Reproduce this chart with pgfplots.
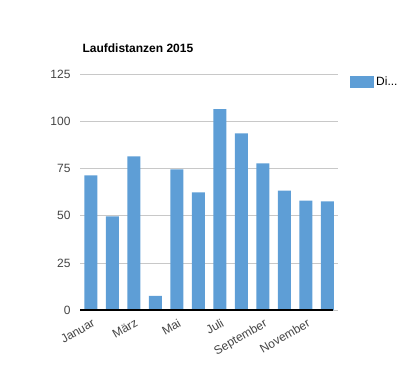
\documentclass[border=0pt]{standalone}
\usepackage{pgfplots}
\pgfplotsset{compat=1.18}
\usepackage{fontspec}
\setmainfont{Liberation Sans}
\definecolor{barblue}{HTML}{5E9ED6}
\definecolor{gridgray}{HTML}{C8C8C8}
\definecolor{ticktext}{HTML}{444444}
\begin{document}
\begin{tikzpicture}[x=1pt,y=1pt]
\useasboundingbox (0,0) rectangle (418,384);
\node[anchor=west,font=\fontsize{12}{14}\selectfont\bfseries] at (79,336) {Laufdistanzen 2015};
\begin{axis}[
  at={(80pt,74pt)}, anchor=south west,
  scale only axis, width=258pt, height=235.5pt,
  xmin=-0.5, xmax=11.5, ymin=0, ymax=125,
  ytick={0,25,50,75,100,125},
  xtick={0,2,4,6,8,10},
  xticklabels={Januar,März,Mai,Juli,September,November},
  major tick length=0pt,
  axis line style={draw=none},
  axis x line*=bottom,
  ymajorgrids, grid style={gridgray, line width=0.8pt},
  /pgf/number format/assume math mode=true,
  tick label style={font=\fontsize{12}{14}\selectfont, text=ticktext},
  yticklabel style={xshift=-6pt},
  xticklabel style={rotate=30, anchor=north east, yshift=-4pt, xshift=0pt},
  ybar, bar width=13pt,
  clip=false,
  legend style={at={(1.0465,1.0)}, anchor=north west, draw=none, font=\fontsize{12}{14}\selectfont, inner sep=0pt},
  legend cell align=left,
  legend image code/.code={\fill[barblue] (0pt,-6pt) rectangle (24pt,6pt);},
]
\addplot[fill=barblue, draw=none] coordinates {
 (0,71.4) (1,49.7) (2,81.6) (3,7.5) (4,74.6) (5,62.4)
 (6,106.6) (7,93.8) (8,77.8) (9,63.4) (10,58.1) (11,57.6)};
\addlegendentry{Di...}
\draw[black, line width=1.5pt] (rel axis cs:0,0) -- (rel axis cs:0.98,0);
\end{axis}
\end{tikzpicture}
\end{document}
